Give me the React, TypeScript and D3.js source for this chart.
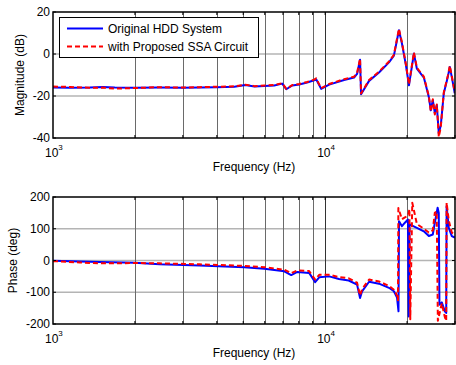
import React, { useEffect, useRef } from 'react';
import * as d3 from 'd3';

// Magnitude response (dB), shared frequency grid (Hz)
const magFreq = [
  1000, 1154, 1366, 1524, 1687, 1996, 2464, 2991, 3455, 3987, 4636, 5094, 5494, 5979, 6498,
  6954, 7198, 7570, 8031, 8584, 9114, 9268, 9668, 10344, 11738, 12773, 13100, 13436, 13550,
  14500, 15770, 17160, 17890, 18670, 19150, 19810, 20320, 21190, 21730, 23050, 24040, 24450,
  24860, 25290, 25720, 26160, 26600, 27290, 28220, 28710, 29200, 29950,
];
const magOriginal = [
  -16.0, -16.1, -16.0, -15.7, -16.0, -16.1, -16.0, -16.1, -15.9, -15.8, -15.6, -14.8, -15.5,
  -15.2, -15.0, -14.1, -16.8, -15.0, -14.5, -13.6, -12.5, -12.0, -16.6, -14.6, -12.4, -11.2,
  -9.5, -2.7, -19.2, -12.8, -8.8, -4.0, -0.8, 11.3, 5.0, -5.4, -14.9, 0.2, -7.0, -11.2, -20.5,
  -26.8, -22.0, -28.0, -24.4, -37.8, -34.0, -18.7, -11.0, -6.2, -11.0, -18.7,
];
const magProposed = [
  -15.5, -15.7, -16.1, -16.0, -16.5, -16.2, -15.8, -16.0, -15.8, -15.6, -15.4, -14.6, -15.3,
  -15.0, -14.8, -13.9, -16.6, -14.8, -14.3, -13.3, -12.2, -11.6, -16.3, -14.3, -12.0, -10.8,
  -9.0, -2.2, -18.8, -12.4, -8.4, -3.6, -0.4, 12.0, 5.6, -5.0, -14.4, 0.8, -6.5, -10.8, -20.0,
  -27.5, -21.5, -28.8, -24.0, -39.5, -34.8, -18.2, -10.5, -5.6, -10.5, -18.2,
];

// Phase response (deg)
const phaseFreqOriginal = [
  1000, 1255, 1486, 1996, 2464, 3455, 5043, 5979, 7075, 7504, 7906, 8732, 9191, 9509, 10344,
  11238, 12210, 13100, 13436, 13667, 14500, 15770, 17160, 17890, 18370, 18600, 18680, 19150,
  19640, 20150, 20280, 20420, 21730, 23050, 24040, 24860, 25290, 25900, 26150, 26300, 26830,
  27520, 27850, 27950, 28460, 29200, 29950,
];
const phaseOriginal = [
  -1, -3, -5, -7, -12, -16, -21, -26, -34, -46, -36, -39, -68, -53, -50, -58, -63, -76, -118,
  -97, -67, -73, -86, -97, -117, -160, 124, 108, 119, 129, -176, 114, 103, 92, 77, 82, 119, 166,
  150, -139, -132, -160, -165, 171, 103, 77, 72,
];
const phaseFreqProposed = [
  1000, 1255, 1486, 1996, 2464, 3455, 5043, 5979, 7075, 7504, 7906, 8732, 9191, 9509, 10344,
  11238, 12210, 13100, 13436, 13667, 14500, 15770, 17160, 17890, 18370, 18520, 18580, 19150,
  19640, 20150, 20400, 20550, 20900, 21730, 23050, 24040, 24860, 25290, 25700, 25950, 26830,
  27520, 27850, 27950, 28460, 29200, 29950,
];
const phaseProposed = [
  -2, -6, -9, -8, -9, -12, -17, -21, -29, -40, -31, -33, -60, -45, -45, -52, -56, -70, -110,
  -90, -60, -66, -80, -92, -110, -125, 165, 130, 136, 140, 162, -185, 182, 115, 100, 88, 95,
  150, 155, -190, -135, -178, -190, 182, 126, 88, 82,
];

const magTicks = [20, 0, -20, -40];
const phaseTicks = [200, 100, 0, -100, -200];
const decadeTicks = [1000, 10000];
const gridFreqs = [2000, 3000, 4000, 5000, 6000, 7000, 8000, 9000, 10000, 20000];
const legendLabels = ['Original HDD System', 'with Proposed SSA Circuit'];

const W = 456;
const H = 365;
const FONT = 'Liberation Sans, Arial, sans-serif';

export default function App() {
  const svgRef = useRef<SVGSVGElement>(null);

  useEffect(() => {
    document.body.style.margin = '0';
    if (!svgRef.current) return;
    const svg = d3.select(svgRef.current);
    svg.selectAll('*').remove();

    const x = d3.scaleLog().domain([1000, 30000]).range([53, 455]);

    const panels = [
      {
        id: 'mag',
        top: 12,
        bottom: 138,
        domain: [-40, 20],
        ticks: magTicks,
        label: 'Magnitude (dB)',
        labelX: 20,
        series: [
          { f: magFreq, v: magOriginal, color: '#0000ff', dash: null },
          { f: magFreq, v: magProposed, color: '#ff0000', dash: '5,3' },
        ],
      },
      {
        id: 'phase',
        top: 197,
        bottom: 324,
        domain: [-200, 200],
        ticks: phaseTicks,
        label: 'Phase (deg)',
        labelX: 13,
        series: [
          { f: phaseFreqOriginal, v: phaseOriginal, color: '#0000ff', dash: null },
          { f: phaseFreqProposed, v: phaseProposed, color: '#ff0000', dash: '5,3' },
        ],
      },
    ];

    const [x0, x1] = x.range();

    panels.forEach(p => {
      const y = d3.scaleLinear().domain(p.domain).range([p.bottom, p.top]);
      const g = svg.append('g');

      // Clip
      svg.append('clipPath')
        .attr('id', `clip-${p.id}`)
        .append('rect')
        .attr('x', x0)
        .attr('y', p.top)
        .attr('width', x1 - x0)
        .attr('height', p.bottom - p.top);

      g.append('rect')
        .attr('x', x0).attr('y', p.top)
        .attr('width', x1 - x0).attr('height', p.bottom - p.top)
        .attr('fill', '#fff');

      // Grid
      g.selectAll('.hgrid')
        .data(p.ticks.filter(t => t !== p.domain[0] && t !== p.domain[1]))
        .enter().append('line')
        .attr('x1', x0).attr('x2', x1)
        .attr('y1', d => y(d)).attr('y2', d => y(d))
        .attr('stroke', '#b4b4b4')
        .attr('stroke-width', 1.5);

      g.selectAll('.vgrid')
        .data(gridFreqs)
        .enter().append('line')
        .attr('x1', d => Math.round(x(d)) + 0.5).attr('x2', d => Math.round(x(d)) + 0.5)
        .attr('y1', p.top).attr('y2', p.bottom)
        .attr('stroke', d => (d === 10000 ? '#333' : '#6a6a6a'))
        .attr('stroke-width', 1);

      // Lines
      const line = d3.line<number>()
        .x((d, i) => x(p.series[0].f[i]))
        .y(d => y(d));

      p.series.forEach(s => {
        const ln = d3.line<number>()
          .x((d, i) => x(s.f[i]))
          .y(d => y(d));
        g.append('path')
          .datum(s.v)
          .attr('clip-path', `url(#clip-${p.id})`)
          .attr('d', ln)
          .attr('fill', 'none')
          .attr('stroke', s.color)
          .attr('stroke-width', 2)
          .attr('stroke-dasharray', s.dash)
          .attr('stroke-linejoin', 'round');
      });
      void line;

      // Ticks (inside)
      const tickFreqs = [...gridFreqs, 30000];
      g.selectAll('.tb')
        .data(tickFreqs)
        .enter().append('line')
        .attr('x1', d => x(d)).attr('x2', d => x(d))
        .attr('y1', p.bottom).attr('y2', p.bottom - 3)
        .attr('stroke', '#000');
      g.selectAll('.tt')
        .data(tickFreqs)
        .enter().append('line')
        .attr('x1', d => x(d)).attr('x2', d => x(d))
        .attr('y1', p.top).attr('y2', p.top + 3)
        .attr('stroke', '#000');
      g.selectAll('.tl')
        .data(p.ticks)
        .enter().append('line')
        .attr('x1', x0).attr('x2', x0 + 3)
        .attr('y1', d => y(d)).attr('y2', d => y(d))
        .attr('stroke', '#000');
      g.selectAll('.tr')
        .data(p.ticks)
        .enter().append('line')
        .attr('x1', x1).attr('x2', x1 - 3)
        .attr('y1', d => y(d)).attr('y2', d => y(d))
        .attr('stroke', '#000');

      // Box
      g.append('rect')
        .attr('x', x0).attr('y', p.top)
        .attr('width', x1 - x0).attr('height', p.bottom - p.top)
        .attr('fill', 'none')
        .attr('stroke', '#000')
        .attr('stroke-width', 1.5);

      // Y tick labels
      g.selectAll('.yl')
        .data(p.ticks)
        .enter().append('text')
        .attr('x', x0 - 3)
        .attr('y', d => y(d))
        .attr('dy', '0.35em')
        .attr('text-anchor', 'end')
        .style('font-family', FONT)
        .style('font-size', '12px')
        .text(d => String(d));

      // X decade labels
      decadeTicks.forEach(d => {
        const t = g.append('text')
          .attr('x', x(d) - 8)
          .attr('y', p.bottom + 19)
          .style('font-family', FONT)
          .style('font-size', '12px')
          .text('10');
        t.append('tspan')
          .attr('dy', -7)
          .style('font-size', '8px')
          .text(String(Math.round(Math.log10(d))));
      });

      // Axis titles
      g.append('text')
        .attr('x', 254)
        .attr('y', p.bottom + 33)
        .attr('text-anchor', 'middle')
        .style('font-family', FONT)
        .style('font-size', '12px')
        .text('Frequency (Hz)');

      g.append('text')
        .attr('transform', `translate(${p.labelX + 4}, ${(p.top + p.bottom) / 2}) rotate(-90)`)
        .attr('text-anchor', 'middle')
        .style('font-family', FONT)
        .style('font-size', '12px')
        .text(p.label);
    });

    // Legend
    const lg = svg.append('g');
    lg.append('rect')
      .attr('x', 59.5).attr('y', 17.5)
      .attr('width', 199).attr('height', 40)
      .attr('fill', '#fff')
      .attr('stroke', '#000')
      .attr('stroke-width', 1);
    legendLabels.forEach((lbl, i) => {
      const ly = 28.5 + i * 18;
      lg.append('line')
        .attr('x1', 67).attr('x2', 103)
        .attr('y1', ly).attr('y2', ly)
        .attr('stroke', i === 0 ? '#0000ff' : '#ff0000')
        .attr('stroke-width', 2)
        .attr('stroke-dasharray', i === 0 ? null : '5,3');
      lg.append('text')
        .attr('x', 108)
        .attr('y', ly)
        .attr('dy', '0.35em')
        .style('font-family', FONT)
        .style('font-size', '12px')
        .text(lbl);
    });
  }, []);

  return (
    <svg
      ref={svgRef}
      width={W}
      height={H}
      viewBox={`0 0 ${W} ${H}`}
      style={{ display: 'block', background: '#fff' }}
    />
  );
}
